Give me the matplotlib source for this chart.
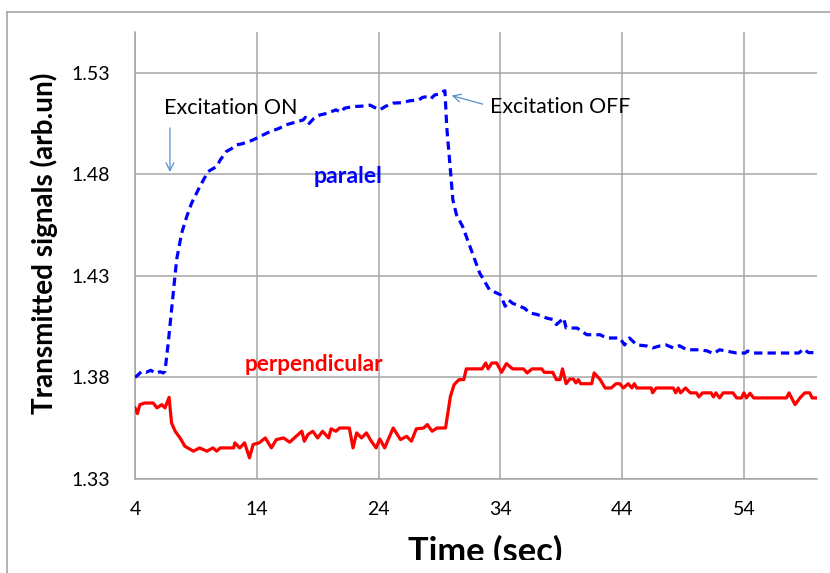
import matplotlib
matplotlib.use("Agg")
import matplotlib.pyplot as plt
from matplotlib.lines import Line2D
from matplotlib.patches import Rectangle

# ---------------- data ----------------
par_t = [4.0, 4.3, 4.55, 4.9, 5.3, 5.7, 6.05, 6.3, 6.46, 6.73, 7.14, 7.42, 7.83, 8.24, 8.65,
         9.33, 10.0, 10.7, 11.0, 11.5, 11.9, 12.3, 12.8, 13.3, 13.7, 14.4, 15.1, 15.8, 16.4,
         17.1, 17.8, 18.0, 18.3, 18.7, 19.2, 19.8, 20.5, 20.9, 21.2, 21.9, 22.6, 23.3, 23.7,
         24.1, 24.6, 25.2, 25.9, 26.6, 27.3, 27.6, 28.0, 28.3, 28.6, 29.0, 29.3, 29.45,
         29.6, 29.9, 30.1, 30.4, 30.9, 31.5, 32.3, 33.1, 34.0, 34.4, 34.7, 35.0, 35.6, 36.0,
         36.4, 37.0, 37.8, 38.3, 38.6, 39.2, 39.4, 40.3, 41.1, 42.2, 42.7, 43.8, 44.2, 44.6,
         45.2, 46.0, 46.5, 47.1, 47.6, 48.2, 48.7, 49.3, 50.4, 51.0, 51.5, 52.0, 53.4, 54.1,
         54.3, 54.8, 56.0, 57.5, 58.5, 58.9, 59.3, 60.0]
par_v = [1.380, 1.3815, 1.383, 1.3825, 1.3835, 1.382, 1.3828, 1.3822, 1.383, 1.397, 1.4215,
         1.438, 1.451, 1.459, 1.4658, 1.474, 1.4813, 1.4838, 1.487, 1.4912, 1.4925, 1.4944,
         1.495, 1.496, 1.4969, 1.499, 1.501, 1.5025, 1.5043, 1.5055, 1.5067, 1.508, 1.505,
         1.5075, 1.5092, 1.510, 1.5117, 1.5105, 1.5125, 1.5133, 1.5135, 1.514, 1.5128,
         1.5117, 1.5135, 1.515, 1.5152, 1.5162, 1.5165, 1.5178, 1.5182, 1.5172, 1.519,
         1.5195, 1.5207, 1.5211,
         1.503, 1.482, 1.4674, 1.460, 1.4543, 1.4445, 1.4314, 1.4232, 1.4207, 1.415, 1.418,
         1.4165, 1.415, 1.414, 1.4117, 1.411, 1.4092, 1.4085, 1.406, 1.4092, 1.4043, 1.4043,
         1.401, 1.401, 1.3994, 1.3994, 1.396, 1.3994, 1.396, 1.3955, 1.3945, 1.3955, 1.396,
         1.3945, 1.3956, 1.3936, 1.3936, 1.393, 1.3917, 1.3936, 1.392, 1.392, 1.393, 1.392,
         1.392, 1.392, 1.392, 1.394, 1.3922, 1.3922]

perp_t = [4.0, 4.2, 4.4, 4.8, 5.5, 5.8, 6.2, 6.46, 6.8, 7.0, 7.3, 7.7, 8.1, 8.8, 9.3, 9.9,
          10.4, 10.7, 11.0, 12.1, 12.2, 12.6, 13.0, 13.4, 13.7, 14.2, 14.7, 15.2, 15.6, 16.2,
          16.7, 17.3, 17.7, 17.9, 18.2, 18.6, 19.0, 19.4, 19.9, 20.1, 20.5, 20.8, 21.6, 21.9,
          22.2, 22.6, 23.0, 23.4, 23.8, 24.1, 24.5, 25.2, 25.8, 26.3, 26.7, 27.1, 27.7, 28.0,
          28.4, 28.8, 29.5, 29.9, 30.2, 30.6, 31.0, 31.2, 32.5, 32.8, 33.0, 33.3, 33.7, 34.1,
          34.5, 35.0, 35.9, 36.2, 36.6, 37.4, 37.6, 38.3, 38.6, 38.9, 39.1, 39.4, 39.7, 40.0,
          40.2, 40.4, 40.6, 41.5, 41.7, 42.2, 42.6, 43.1, 43.5, 43.8, 44.1, 44.5, 44.8, 45.0,
          45.2, 46.4, 46.5, 46.8, 48.2, 48.4, 48.6, 48.8, 49.2, 49.6, 50.1, 50.3, 50.6, 51.3,
          51.5, 51.7, 52.0, 52.3, 53.1, 53.4, 53.8, 54.0, 54.2, 54.5, 54.8, 57.5, 57.7, 58.2,
          58.6, 59.0, 59.4, 59.6, 60.0]
perp_v = [1.365, 1.3622, 1.3666, 1.3674, 1.3674, 1.365, 1.3666, 1.365, 1.3702, 1.3576,
          1.3535, 1.3502, 1.3461, 1.3437, 1.3453, 1.3437, 1.3453, 1.3437, 1.3453, 1.3453,
          1.3478, 1.3453, 1.3478, 1.3404, 1.347, 1.3478, 1.3502, 1.3453, 1.3494, 1.3502,
          1.3481, 1.3514, 1.3535, 1.3486, 1.3519, 1.3535, 1.3502, 1.3535, 1.3502, 1.3547,
          1.3535, 1.3551, 1.3551, 1.3453, 1.3527, 1.3502, 1.3527, 1.3486, 1.3453, 1.3497,
          1.3453, 1.3551, 1.3494, 1.351, 1.3486, 1.3547, 1.3551, 1.3568, 1.3535, 1.3551,
          1.3551, 1.3707, 1.3764, 1.3789, 1.3789, 1.3842, 1.3842, 1.3871, 1.3842, 1.3871,
          1.3871, 1.3825, 1.3868, 1.3842, 1.3842, 1.3822, 1.3842, 1.3842, 1.3825, 1.3825,
          1.3789, 1.3789, 1.3842, 1.3769, 1.3792, 1.3792, 1.3773, 1.3789, 1.3769, 1.3769,
          1.3822, 1.3789, 1.3748, 1.3748, 1.3769, 1.3769, 1.3748, 1.3769, 1.3748, 1.3769,
          1.3748, 1.3748, 1.3724, 1.3748, 1.3748, 1.3724, 1.3748, 1.3724, 1.3748, 1.3724,
          1.3724, 1.3704, 1.3724, 1.3724, 1.3704, 1.3724, 1.3699, 1.3724, 1.3724, 1.3699,
          1.3699, 1.3724, 1.3699, 1.3722, 1.3699, 1.3699, 1.3724, 1.3666, 1.3699, 1.3724,
          1.3724, 1.3699, 1.3699]

x_ticks = [4, 14, 24, 34, 44, 54]
y_ticks = [1.33, 1.38, 1.43, 1.48, 1.53]
y_tick_labels = ["1.33", "1.38", "1.43", "1.48", "1.53"]

# ---------------- figure ----------------
W, H = 830, 573
DPI = 100
plt.rcParams['font.family'] = ['Lato', 'DejaVu Sans']
fig = plt.figure(figsize=(W / DPI, H / DPI), dpi=DPI)
fig.patch.set_facecolor('white')

def fx(px):
    return px / W

def fy(py):
    return 1 - py / H

L, R, T, B = 135, 817, 32, 479
ax = fig.add_axes([fx(L), fy(B), (R - L) / W, (B - T) / H])
ax.set_xlim(4, 60)
ax.set_ylim(1.33, 1.55)

grid_c = '#A6A6A6'
ax.set_xticks(x_ticks)
ax.set_yticks(y_ticks)
ax.set_yticklabels(y_tick_labels)
ax.grid(True, color=grid_c, linewidth=1.1)
ax.set_axisbelow(True)
for s in ['top', 'right']:
    ax.spines[s].set_visible(False)
for s in ['left', 'bottom']:
    ax.spines[s].set_color(grid_c)
    ax.spines[s].set_linewidth(1.1)
ax.tick_params(axis='both', length=0, labelsize=14, colors='black')
ax.tick_params(axis='y', pad=18)
ax.tick_params(axis='x', pad=16)

ax.plot(par_t, par_v, color='#0000FF', linewidth=2.3, linestyle=(0, (2.6, 1.6)),
        solid_joinstyle='miter', zorder=3)
ax.plot(perp_t, perp_v, color='#FF0000', linewidth=2.3, zorder=3)

# annotations
arrow_c = '#5B8FC9'
t_on = ax.text(6.38, 1.5126, 'Excitation ON', fontsize=15, ha='left', va='center', color='black')
t_off = ax.text(33.15, 1.5129, 'Excitation OFF', fontsize=15, ha='left', va='center', color='black')
ax.annotate('', xy=(6.87, 1.4811), xytext=(6.87, 1.5028),
            arrowprops=dict(arrowstyle='->', color=arrow_c, lw=0.9, mutation_scale=14,
                            shrinkA=0, shrinkB=0))
ax.annotate('', xy=(30.0, 1.5187), xytext=(32.55, 1.5145),
            arrowprops=dict(arrowstyle='->', color=arrow_c, lw=0.9, mutation_scale=14,
                            shrinkA=0, shrinkB=0))
t_par = ax.text(21.53, 1.4787, 'paralel', fontsize=15, fontweight='bold', color='#0000FF',
                ha='center', va='center')
t_perp = ax.text(18.70, 1.3863, 'perpendicular', fontsize=15, fontweight='bold', color='#FF0000',
                 ha='center', va='center')

# axis titles
t_yl = fig.text(fx(44), fy(243), 'Transmitted signals (arb.un)', rotation=90, fontsize=20,
                fontweight='bold', ha='center', va='center')
t_xl = fig.text(fx(485.5), fy(562), 'Time (sec)', fontsize=24, fontweight='bold',
                ha='center', va='baseline')

# fit text sizes to measured lengths
fig.canvas.draw()
r = fig.canvas.get_renderer()
for t, target, dim in [(t_on, 133, 'w'), (t_off, 140, 'w'), (t_par, 69, 'w'),
                       (t_perp, 140, 'w'), (t_yl, 341, 'h'), (t_xl, 155, 'w')]:
    bb = t.get_window_extent(r)
    cur = bb.width if dim == 'w' else bb.height
    t.set_fontsize(t.get_fontsize() * target / cur)

# outer chart border
fig.add_artist(Line2D([fx(7), 1.0], [fy(12), fy(12)], transform=fig.transFigure,
                      color='#A6A6A6', linewidth=1.2))
fig.add_artist(Line2D([fx(7), fx(7)], [fy(12), 0.0], transform=fig.transFigure,
                      color='#A6A6A6', linewidth=1.2))
# white strip clipping the bottom of the x title
fig.add_artist(Rectangle((fx(300), 0), fx(400), fy(560), transform=fig.transFigure,
                         facecolor='white', edgecolor='none', zorder=10))

fig.savefig('out.png', dpi=DPI)
